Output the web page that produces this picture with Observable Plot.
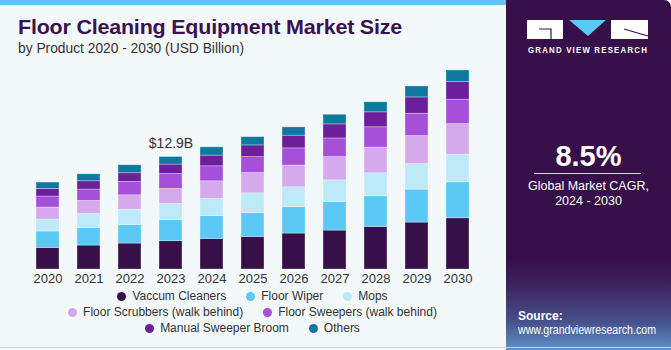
<!DOCTYPE html>
<html>
<head>
<meta charset="utf-8">
<script src="https://cdn.jsdelivr.net/npm/d3@7"></script>
<script src="https://cdn.jsdelivr.net/npm/@observablehq/plot@0.6"></script>
<style>
  html, body { margin: 0; padding: 0; background: #ffffff; }
  #card { position: relative; width: 671px; height: 350px; overflow: hidden; background: #f3f8fb; font-family: "Liberation Sans", Arial, sans-serif; }
  #topline { position: absolute; left: 0; top: 0; width: 508px; height: 5px; background: #62c6ee; }
  #bottomline { position: absolute; left: 0; top: 347px; width: 671px; height: 1px; background: #cfd3d6; }
  #title { position: absolute; left: 18px; top: 15px; font-size: 21px; font-weight: bold; color: #3b1251; white-space: nowrap; transform-origin: left center; letter-spacing: -0.2px; }
  #subtitle { position: absolute; left: 18px; top: 40px; font-size: 14px; color: #333; white-space: nowrap; transform-origin: left center; }
  #chart { position: absolute; left: 0; top: 60px; }
  .legrow { position: absolute; left: 0; width: 505px; display: flex; justify-content: center; gap: 20px; font-size: 12px; color: #333; white-space: nowrap; }
  .legitem { display: flex; align-items: center; }
  .dot { width: 9px; height: 9px; border-radius: 50%; margin-right: 6px; }
  #panel { position: absolute; left: 506px; top: 0; width: 165px; height: 350px; border-top-right-radius: 7px;
    background: linear-gradient(to bottom, #37104a 0%, #37104a 74%, #3c2560 82%, #46518c 92%, #5e93c9 100%); color: #fff; }
  .ptext { position: absolute; white-space: nowrap; }
</style>
</head>
<body>
<div id="card">
  <div id="topline"></div>
  <div id="title">Floor Cleaning Equipment Market Size</div>
  <div id="subtitle">by Product 2020 - 2030 (USD Billion)</div>
  <div id="chart"></div>
  <div id="legend"></div>
  <div id="panel">
    <svg width="165" height="60" style="position:absolute;left:0;top:0">
      <rect x="21" y="20" width="36" height="19" fill="#ffffff"/>
      <path d="M33 29 H45 V39" stroke="#37104a" stroke-width="1.2" fill="none"/>
      <path d="M63 20 H100 L82 36 Z" fill="#5bc8f5"/>
      <rect x="105" y="20" width="37" height="19" fill="#ffffff"/>
      <path d="M118 29 L142 36" stroke="#37104a" stroke-width="1.2" fill="none"/>
    </svg>
    <div class="ptext" id="gvr" style="left:22px;top:45px;font-size:8.5px;font-weight:bold;letter-spacing:1.3px;transform-origin:left center;">GRAND VIEW RESEARCH</div>
    <div class="ptext" id="cagr" style="left:0;width:165px;text-align:center;top:140px;font-size:29px;font-weight:bold;">8.5%</div>
    <div style="position:absolute;left:28px;top:173px;width:107px;height:1px;background:#d8d0e0;"></div>
    <div class="ptext" style="left:0;width:165px;text-align:center;top:179px;font-size:12.5px;line-height:15px;">Global Market CAGR,<br>2024 - 2030</div>
    <div class="ptext" style="left:12px;top:309px;font-size:12px;font-weight:bold;">Source:</div>
    <div class="ptext" id="src" style="left:12px;top:323px;font-size:12px;transform-origin:left center;">www.grandviewresearch.com</div>
  </div>
  <div id="bottomline"></div>
</div>
<script>
// ---- data ----
const years = ["2020","2021","2022","2023","2024","2025","2026","2027","2028","2029","2030"];
const segments = ["Vaccum Cleaners","Floor Wiper","Mops","Floor Scrubbers (walk behind)","Floor Sweepers (walk behind)","Manual Sweeper Broom","Others"];
const vacuumCleaners = [2.48, 2.75, 2.98, 3.25, 3.51, 3.74, 4.13, 4.47, 4.89, 5.39, 5.88];
const floorWiper     = [1.88, 2.02, 2.13, 2.41, 2.64, 2.72, 3.02, 3.28, 3.52, 3.78, 4.13];
const mops           = [1.38, 1.61, 1.77, 1.87, 1.95, 2.29, 2.29, 2.49, 2.64, 2.94, 3.18];
const floorScrubbers = [1.38, 1.49, 1.64, 1.72, 2.03, 2.33, 2.49, 2.67, 2.95, 3.21, 3.51];
const floorSweepers  = [1.26, 1.31, 1.53, 1.72, 1.72, 1.83, 1.98, 2.14, 2.33, 2.57, 2.80];
const manualBroom    = [0.87, 0.95, 1.00, 1.08, 1.23, 1.34, 1.46, 1.61, 1.72, 1.87, 2.02];
const others         = [0.73, 0.80, 0.92, 0.87, 0.95, 0.95, 0.95, 1.11, 1.15, 1.26, 1.34];
const colors = ["#37104a", "#5bc8f5", "#bde9f9", "#d5a9ec", "#a64fd8", "#6c1f9b", "#0e789f"];
const annotationYears = ["2023"];
const annotationLabels = ["$12.9B"];

// ---- build table ----
const seriesValues = [vacuumCleaners, floorWiper, mops, floorScrubbers, floorSweepers, manualBroom, others];
const rows = [];
years.forEach((yr, i) => segments.forEach((s, j) => rows.push({year: yr, segment: s, value: seriesValues[j][i]})));
const totals = years.map((yr, i) => seriesValues.reduce((a, s) => a + s[i], 0));
const annotations = annotationYears.map((yr, k) => ({year: yr, total: totals[years.indexOf(yr)], label: annotationLabels[k]}));

const chart = Plot.plot({
  width: 500,
  height: 230,
  marginTop: 0,
  marginBottom: 21,
  marginLeft: 13,
  marginRight: 8,
  style: {background: "transparent", fontFamily: "Liberation Sans, Arial, sans-serif", fontSize: "13px", color: "#333"},
  x: {domain: years, padding: 0.43, label: null, tickSize: 0, tickPadding: 4},
  y: {domain: [0, 24], axis: null},
  color: {domain: segments, range: colors},
  marks: [
    Plot.barY(rows, {x: "year", y: "value", fill: "segment", order: segments, stroke: "#ffffff", strokeOpacity: 0.45, strokeWidth: 0.7}),
    Plot.text(annotations, {x: "year", y: "total", text: "label", dy: -9, lineAnchor: "bottom", fontSize: 14, fill: "#333"})
  ]
});
document.getElementById("chart").appendChild(chart);

// ---- legend ----
const legendRows = [[0, 1, 2], [3, 4], [5, 6]];
const rowTops = [289, 305, 321];
const legend = document.getElementById("legend");
legendRows.forEach((r, k) => {
  const row = document.createElement("div");
  row.className = "legrow";
  row.style.top = rowTops[k] + "px";
  r.forEach(j => {
    const item = document.createElement("div");
    item.className = "legitem";
    const dot = document.createElement("span");
    dot.className = "dot";
    dot.style.background = colors[j];
    const t = document.createElement("span");
    t.textContent = segments[j];
    item.appendChild(dot); item.appendChild(t);
    row.appendChild(item);
  });
  legend.appendChild(row);
});

// ---- fit text widths ----
function fit(id, w) {
  const el = document.getElementById(id);
  const cw = el.getBoundingClientRect().width;
  if (cw > 0) el.style.transform = `scaleX(${w / cw})`;
}
fit("title", 384);
fit("subtitle", 226);
fit("src", 138);
fit("gvr", 120);
</script>
</body>
</html>
